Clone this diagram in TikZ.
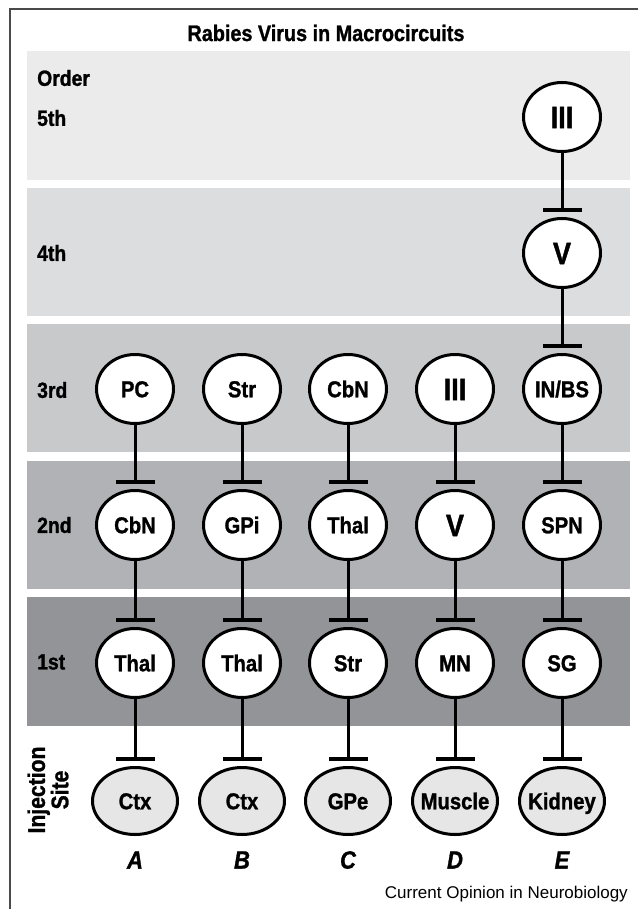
\documentclass[tikz,border=0pt]{standalone}
\usepackage{fontspec}
\setmainfont[FakeStretch=0.88, BoldFeatures={FakeBold=1.2}, BoldItalicFeatures={FakeBold=1.2}]{Liberation Sans}
\newfontfamily\plainsans{Liberation Sans}
\usetikzlibrary{shapes.geometric,arrows.meta}
\definecolor{bandfive}{HTML}{EBEBEC}
\definecolor{bandfour}{HTML}{DCDDDE}
\definecolor{bandthree}{HTML}{C8C9CB}
\definecolor{bandtwo}{HTML}{B1B2B5}
\definecolor{bandone}{HTML}{939497}
\definecolor{injgray}{HTML}{E6E6E7}
\definecolor{framegray}{HTML}{4A4A4A}
\newcommand{\zw}[1]{\makebox[0pt]{#1}}
\tikzset{
  cell/.style={ellipse, draw=black, line width=3pt, fill=white, minimum width=77pt, minimum height=69pt, inner sep=0pt, text height=16.5pt, text depth=0pt, font=\bfseries\fontsize{23}{23}\selectfont},
  bigcell/.style={cell, text height=22.2pt, font=\bfseries\fontsize{31}{31}\selectfont},
  injcell/.style={cell, fill=injgray, minimum width=85pt, minimum height=67pt},
  link/.style={line width=3pt, -{Bar[width=39pt,line width=4pt]}, shorten >=5pt},
  rowlabel/.style={anchor=west, inner sep=0pt, font=\bfseries\fontsize{22}{22}\selectfont},
  collabel/.style={inner sep=0pt, font=\bfseries\itshape\fontsize{25}{25}\selectfont}
}
\begin{document}
\begin{tikzpicture}[x=1pt,y=-1pt]
\useasboundingbox (0,0) rectangle (638,909);
\fill[white] (0,0) rectangle (638,909);
% bands
\fill[bandfive]  (27,51)  rectangle (630,180);
\fill[bandfour]  (27,188) rectangle (630,316);
\fill[bandthree] (27,324) rectangle (630,452);
\fill[bandtwo]   (27,461) rectangle (630,589);
\fill[bandone]   (27,597) rectangle (630,726);
% frame
\draw[framegray, line width=2pt] (10,909) -- (10,9) -- (638,9);
% title
\node[inner sep=0pt, font=\bfseries\fontsize{22.5}{22.5}\selectfont] (title) at (326,33) {Rabies Virus in Macrocircuits};
% row labels
\node[rowlabel] (lorder) at (37,78) {Order};
\node[rowlabel] (l5) at (37,118) {5th};
\node[rowlabel] (l4) at (37,253) {4th};
\node[rowlabel] (l3) at (37,390) {3rd};
\node[rowlabel] (l2) at (37,525) {2nd};
\node[rowlabel] (l1) at (37,662) {1st};
\node[inner sep=0pt, rotate=90, align=center, font=\bfseries\fontsize{24}{21}\selectfont] (linj) at (48,790) {Injection\\Site};
% column A
\node[cell] (a3) at (135,389) {\zw{PC}};
\node[cell] (a2) at (135,525) {\zw{CbN}};
\node[cell] (a1) at (135,663) {\zw{Thal}};
\node[injcell] (a0) at (135,801) {\zw{Ctx}};
% column B
\node[cell] (b3) at (242,389) {\zw{Str}};
\node[cell] (b2) at (242,525) {\zw{GPi}};
\node[cell] (b1) at (242,663) {\zw{Thal}};
\node[injcell] (b0) at (242,801) {\zw{Ctx}};
% column C
\node[cell] (c3) at (348,389) {\zw{CbN}};
\node[cell] (c2) at (348,525) {\zw{Thal}};
\node[cell] (c1) at (348,663) {\zw{Str}};
\node[injcell] (c0) at (348,801) {\zw{GPe}};
% column D
\node[bigcell] (d3) at (455,389) {\zw{III}};
\node[bigcell] (d2) at (455,525) {\zw{V}};
\node[cell] (d1) at (455,663) {\zw{MN}};
\node[injcell] (d0) at (455,801) {\zw{Muscle}};
% column E
\node[bigcell] (e5) at (562,117) {\zw{III}};
\node[bigcell] (e4) at (562,253) {\zw{V}};
\node[cell] (e3) at (562,389) {\zw{IN/BS}};
\node[cell] (e2) at (562,525) {\zw{SPN}};
\node[cell] (e1) at (562,663) {\zw{SG}};
\node[injcell] (e0) at (562,801) {\zw{Kidney}};
% connectors
\foreach \c in {a,b,c,d}{
  \draw[link] (\c3) -- (\c2);
  \draw[link] (\c2) -- (\c1);
  \draw[link] (\c1) -- (\c0);
}
\draw[link] (e5) -- (e4);
\draw[link] (e4) -- (e3);
\draw[link] (e3) -- (e2);
\draw[link] (e2) -- (e1);
\draw[link] (e1) -- (e0);
% column letters
\node[collabel] (la) at (135,860) {A};
\node[collabel] (lb) at (242,860) {B};
\node[collabel] (lc) at (348,860) {C};
\node[collabel] (ld) at (455,860) {D};
\node[collabel] (le) at (562,860) {E};
% credit
\node[anchor=east, inner sep=0pt, font=\plainsans\fontsize{17}{17}\selectfont] (credit) at (628,894) {Current Opinion in Neurobiology};
\end{tikzpicture}
\end{document}
